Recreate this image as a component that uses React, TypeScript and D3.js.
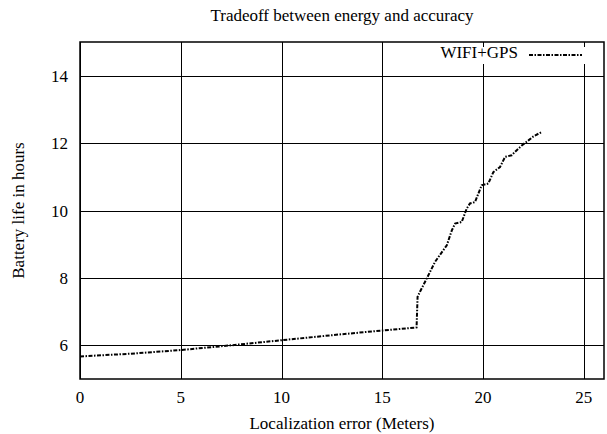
import React, { useRef, useEffect } from "react";
import * as d3 from "d3";

// localization error (meters)
const errorMeters = [
  0, 2.5, 5, 7.5, 10, 12.5, 15, 16.7, 16.75, 16.87, 17.21, 17.62, 18.2, 18.45,
  18.61, 18.94, 19.19, 19.35, 19.6, 19.93, 20.26, 20.51, 20.84, 21.09, 21.42,
  21.67, 21.92, 22.25, 22.5, 22.91,
];
// battery life (hours)
const batteryHours = [
  5.67, 5.75, 5.86, 6.0, 6.15, 6.3, 6.44, 6.53, 7.44, 7.59, 7.99, 8.48, 8.97,
  9.41, 9.61, 9.66, 10.06, 10.21, 10.25, 10.75, 10.8, 11.14, 11.29, 11.59,
  11.64, 11.79, 11.93, 12.08, 12.2, 12.33,
];
const xTicks = [0, 5, 10, 15, 20, 25];
const yTicks = [6, 8, 10, 12, 14];
const seriesName = "WIFI+GPS";

const W = 607;
const H = 434;

const App = () => {
  const svgRef = useRef<SVGSVGElement>(null);

  useEffect(() => {
    const margin = { top: 42, right: 3, bottom: 55, left: 80 };
    const width = W - margin.left - margin.right;
    const height = H - margin.top - margin.bottom;
    const font = "'Liberation Serif', 'Times New Roman', serif";
    const fs = 17;

    const svg = d3.select(svgRef.current);
    svg.selectAll("*").remove();

    const g = svg
      .append("g")
      .attr("transform", `translate(${margin.left},${margin.top})`);

    const x = d3.scaleLinear().domain([0, 26]).range([0, width]);
    const y = d3.scaleLinear().domain([5, 15]).range([height, 0]);

    // grid
    g.append("g")
      .selectAll("line")
      .data(xTicks)
      .enter()
      .append("line")
      .attr("x1", (d) => Math.round(x(d)) + 0.5)
      .attr("x2", (d) => Math.round(x(d)) + 0.5)
      .attr("y1", 0)
      .attr("y2", height)
      .attr("stroke", "#000")
      .attr("stroke-width", 1);

    g.append("g")
      .selectAll("line")
      .data(yTicks)
      .enter()
      .append("line")
      .attr("x1", 0)
      .attr("x2", width)
      .attr("y1", (d) => Math.round(y(d)) + 0.5)
      .attr("y2", (d) => Math.round(y(d)) + 0.5)
      .attr("stroke", "#000")
      .attr("stroke-width", 1);

    // legend box blanks the grid behind it
    const legendRight = 502;
    const legendY = 13;
    g.append("rect")
      .attr("x", 345)
      .attr("y", 4)
      .attr("width", width - 345 - 1)
      .attr("height", 18)
      .attr("fill", "#fff");

    // mirror ticks on top
    g.append("g")
      .selectAll("line")
      .data(xTicks)
      .enter()
      .append("line")
      .attr("x1", (d) => Math.round(x(d)) + 0.5)
      .attr("x2", (d) => Math.round(x(d)) + 0.5)
      .attr("y1", 0)
      .attr("y2", 5)
      .attr("stroke", "#000");

    // frame
    g.append("rect")
      .attr("x", 0)
      .attr("y", 0)
      .attr("width", width)
      .attr("height", height)
      .attr("fill", "none")
      .attr("stroke", "#000")
      .attr("stroke-width", 1.5);

    // tick labels
    g.append("g")
      .selectAll("text")
      .data(xTicks)
      .enter()
      .append("text")
      .attr("x", (d) => x(d))
      .attr("y", height + 24)
      .attr("text-anchor", "middle")
      .attr("font-family", font)
      .attr("font-size", fs)
      .text((d) => d);

    g.append("g")
      .selectAll("text")
      .data(yTicks)
      .enter()
      .append("text")
      .attr("x", -12)
      .attr("y", (d) => y(d) + 6)
      .attr("text-anchor", "end")
      .attr("font-family", font)
      .attr("font-size", fs)
      .text((d) => d);

    // series
    const data = errorMeters.map((e, i) => [e, batteryHours[i]] as [number, number]);
    const line = d3
      .line<[number, number]>()
      .x((d) => x(d[0]))
      .y((d) => y(d[1]));

    g.append("path")
      .datum(data)
      .attr("fill", "none")
      .attr("stroke", "#000")
      .attr("stroke-width", 2)
      .attr("stroke-dasharray", "4 1.5 1.5 1.5")
      .attr("d", line);

    // legend
    g.append("text")
      .attr("x", legendRight - 64)
      .attr("y", legendY + 3)
      .attr("text-anchor", "end")
      .attr("font-family", font)
      .attr("font-size", fs)
      .text(seriesName);

    g.append("line")
      .attr("x1", legendRight - 53)
      .attr("x2", legendRight)
      .attr("y1", legendY)
      .attr("y2", legendY)
      .attr("stroke", "#000")
      .attr("stroke-width", 2)
      .attr("stroke-dasharray", "4 1.5 1.5 1.5");

    // titles
    svg
      .append("text")
      .attr("x", margin.left + width / 2)
      .attr("y", 21)
      .attr("text-anchor", "middle")
      .attr("font-family", font)
      .attr("font-size", fs)
      .text("Tradeoff between energy and accuracy");

    svg
      .append("text")
      .attr("x", margin.left + width / 2)
      .attr("y", 429)
      .attr("text-anchor", "middle")
      .attr("font-family", font)
      .attr("font-size", fs)
      .text("Localization error (Meters)");

    svg
      .append("text")
      .attr("transform", `translate(24,${margin.top + height / 2}) rotate(-90)`)
      .attr("text-anchor", "middle")
      .attr("font-family", font)
      .attr("font-size", fs)
      .text("Battery life in hours");
  }, []);

  return (
    <svg
      ref={svgRef}
      width={W}
      height={H}
      style={{ position: "absolute", left: 0, top: 0, background: "#fff" }}
    />
  );
};

export default App;
